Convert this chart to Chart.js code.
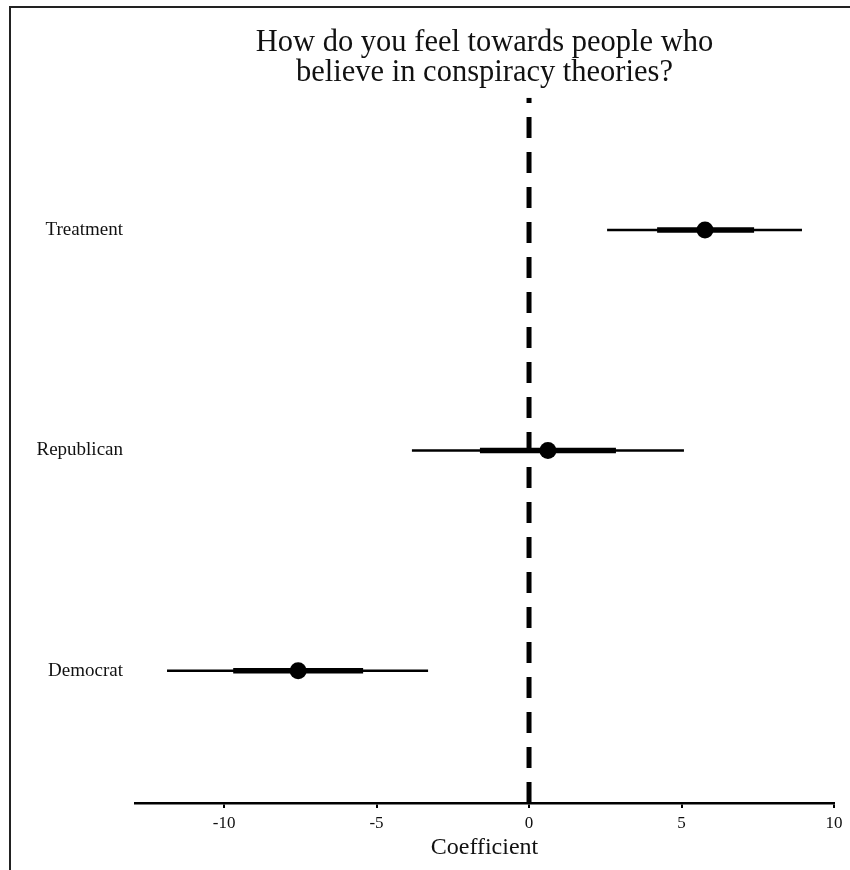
<!DOCTYPE html>
<html>
<head>
<meta charset="utf-8">
<script src="https://cdn.jsdelivr.net/npm/chart.js@4"></script>
<style>
  html, body { margin: 0; padding: 0; background: #fff; }
  #wrap { position: relative; width: 850px; height: 870px; }
  #frame { position: absolute; left: 9px; top: 6px; width: 860px; height: 880px;
           border-left: 2px solid #222; border-top: 2px solid #222; box-sizing: border-box; }
  canvas { position: absolute; left: 0; top: 0; }
</style>
</head>
<body>
<div id="wrap">
  <div id="frame"></div>
  <canvas id="c" width="850" height="870"></canvas>
</div>
<script>
// ---- data ----
const categories = ["Democrat", "Republican", "Treatment"];   // y = 1, 2, 3
const estimates  = [-7.57, 0.62, 5.77];
const ci95Low    = [-11.87, -3.84, 2.56];
const ci95High   = [-3.31, 5.08, 8.95];
const ci68Low    = [-9.70, -1.61, 4.20];
const ci68High   = [-5.44, 2.85, 7.38];
const xTicks     = [-10, -5, 0, 5, 10];
const titleLines = ["How do you feel towards people who", "believe in conspiracy theories?"];
const xTitle     = "Coefficient";

const FONT = "'Liberation Serif', 'DejaVu Serif', serif";
const INK = '#111';

const datasets = [];
// points (top)
datasets.push({
  type: 'scatter',
  data: estimates.map((v, i) => ({ x: v, y: i + 1 })),
  pointRadius: 8.5,
  pointBackgroundColor: '#000',
  pointBorderWidth: 0,
  order: 0
});
// thick intervals
categories.forEach((c, i) => {
  datasets.push({
    type: 'line',
    data: [{ x: ci68Low[i], y: i + 1 }, { x: ci68High[i], y: i + 1 }],
    borderColor: '#000', borderWidth: 5.5, pointRadius: 0, borderCapStyle: 'butt',
    order: 1
  });
});
// thin intervals
categories.forEach((c, i) => {
  datasets.push({
    type: 'line',
    data: [{ x: ci95Low[i], y: i + 1 }, { x: ci95High[i], y: i + 1 }],
    borderColor: '#000', borderWidth: 2.5, pointRadius: 0, borderCapStyle: 'butt',
    order: 2
  });
});
// zero reference line (dashed)
datasets.push({
  type: 'line',
  data: [{ x: 0, y: 0.4 }, { x: 0, y: 3.6 }],
  borderColor: '#000', borderWidth: 5, borderDash: [21, 14], pointRadius: 0,
  borderCapStyle: 'butt',
  order: 3
});

new Chart(document.getElementById('c'), {
  type: 'scatter',
  data: { datasets },
  options: {
    responsive: false,
    animation: false,
    layout: { padding: { left: 0, right: 16, top: 0, bottom: 0 } },
    plugins: {
      legend: { display: false },
      tooltip: { enabled: false },
      title: {
        display: true,
        text: titleLines,
        fullSize: false,
        color: INK,
        font: { family: FONT, size: 30.5, weight: 'normal', lineHeight: 0.98 },
        padding: { top: 28, bottom: 10 }
      }
    },
    scales: {
      x: {
        type: 'linear',
        min: -12.92, max: 10,
        afterBuildTicks: (s) => { s.ticks = xTicks.map(v => ({ value: v })); },
        afterFit: (s) => { s.height = 67; },
        grid: { display: true, drawOnChartArea: false, drawTicks: true, tickLength: 5, color: '#000', lineWidth: 2 },
        border: { display: true, color: '#000', width: 2.5 },
        ticks: { color: INK, font: { family: FONT, size: 17 }, padding: 5, maxRotation: 0 },
        title: { display: true, text: xTitle, color: INK, font: { family: FONT, size: 24 }, padding: { top: 0, bottom: 8 } }
      },
      y: {
        type: 'linear',
        min: 0.4, max: 3.6,
        afterBuildTicks: (s) => { s.ticks = categories.map((c, i) => ({ value: i + 1 })); },
        afterFit: (s) => { s.width = 135; },
        grid: { display: false, drawTicks: false },
        border: { display: false },
        ticks: {
          color: INK, font: { family: FONT, size: 19 }, padding: 12,
          callback: (v) => categories[Math.round(v) - 1]
        }
      }
    }
  }
});
</script>
</body>
</html>
